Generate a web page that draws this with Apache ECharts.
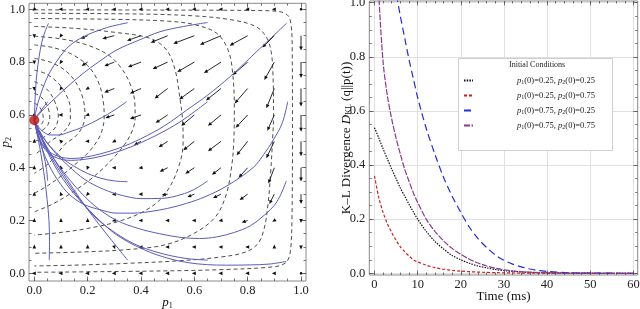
<!DOCTYPE html>
<html><head><meta charset="utf-8">
<script src="https://cdn.jsdelivr.net/npm/echarts@6/dist/echarts.min.js"></script>
<style>html,body{margin:0;padding:0;background:#fff}#c{width:640px;height:309px}</style>
</head><body><div id="c"></div>
<script>
// ---------------- LEFT PANEL DATA ----------------
const fieldP1 = [0, 0.1, 0.2, 0.3, 0.4, 0.5, 0.6, 0.7, 0.8, 0.9, 1.0];
const fieldP2 = [0, 0.1, 0.2, 0.3, 0.4, 0.5, 0.6, 0.7, 0.8, 0.9, 1.0];
// arrow components (rows: p2 = 0.0 .. 1.0, columns: p1 = 0.0 .. 1.0)
const fieldU = [
  [-3,-4,-4,-4,-4,-4,-4,-4,-4,-4,0],
  [0,0,0,1,-4,-4,-4,-4,-4,0,0],
  [0,0,0,-3,-4,-5,-5,-5,-6,-5,0],
  [0,-1,-2,-4,-5,-6,-7,-8,-8,-5,0],
  [0,-1,-1,-4,-5,-8,-9,-9,-9,-6,0],
  [0,-2,-4,-4,-7,-9,-11,-13,-11,-8,0],
  [0,-3,-5,-9,-11,-12,-13,-13,-12,-7,0],
  [0,-2,-5,-10,-11,-13,-15,-15,-13,-8,0],
  [0,-2,-6,-10,-13,-15,-17,-17,-15,-10,0],
  [0,-2,-7,-12,-14,-17,-21,-21,-18,-12,0],
  [-2,-5,-5,-5,-5,-5,-5,-5,-5,-4,0]
];
const fieldV = [
  [0,0,0,0,0,0,0,0,0,0,0],
  [3,3,3,-3,0,0,0,0,0,3,-4],
  [3,3,3,-1,0,0,0,-1,-2,-3,-6],
  [3,3,-2,0,0,-1,-3,-4,-6,-10,-10],
  [3,3,-3,0,-1,-4,-6,-7,-10,-16,-14],
  [3,2,0,-2,-4,-6,-9,-10,-14,-17,-15],
  [0,0,-2,-3,-4,-8,-11,-11,-13,-16,-17],
  [-3,-3,-3,-4,-5,-10,-11,-12,-15,-20,-18],
  [-3,-3,-4,-4,-5,-7,-10,-11,-13,-18,-16],
  [-3,-3,-3,-3,-5,-7,-8,-9,-10,-12,-15],
  [-2,0,0,0,0,0,0,0,0,0,0]
];
// dashed level curves
const contour1 = [[0,.644],[.013,.637],[.025,.622],[.032,.602],[.034,.582],[.028,.566],[.016,.558],[0,.553]];
const contour2 = [[0,.682],[.02,.672],[.04,.65],[.053,.622],[.058,.592],[.052,.565],[.037,.547],[.018,.536],[0,.53]];
const contour3 = [[0,.726],[.03,.712],[.06,.682],[.08,.642],[.09,.6],[.084,.563],[.066,.537],[.04,.518],[.018,.506],[0,.5]];
const contour4 = [[0,.77],[.045,.755],[.09,.72],[.12,.675],[.135,.625],[.135,.58],[.118,.545],[.09,.52],[.064,.503],[.04,.482],[.018,.462],[0,.45]];
const contour5 = [[0,.814],[.06,.8],[.12,.765],[.16,.716],[.183,.66],[.19,.6],[.178,.55],[.15,.515],[.114,.488],[.076,.44],[.04,.405],[0,.379]];
const contour6 = [[0,.865],[.07,.855],[.14,.83],[.2,.787],[.24,.725],[.258,.655],[.262,.59],[.252,.535],[.235,.5],[.2,.455],[.15,.41],[.1,.368],[.05,.332],[0,.303]];
const contour7 = [[0,.898],[.1,.888],[.2,.864],[.28,.825],[.33,.772],[.362,.71],[.377,.645],[.378,.585],[.365,.535],[.34,.49],[.29,.43],[.225,.368],[.15,.312],[.07,.263],[0,.233]];
const contour8 = [[0,.935],[.15,.928],[.3,.913],[.434,.89],[.496,.846],[.528,.77],[.545,.67],[.556,.58],[.558,.5],[.54,.4],[.49,.3],[.42,.24],[.32,.198],[.2,.17],[.1,.155],[0,.145]];
const contour9 = [[0,.965],[.3,.962],[.5,.955],[.6,.942],[.684,.909],[.728,.842],[.745,.745],[.75,.62],[.748,.5],[.74,.405],[.72,.3],[.68,.215],[.6,.152],[.49,.108],[.35,.09],[.18,.081],[0,.076]];
const contour10 = [[0,.985],[.4,.982],[.6,.975],[.74,.96],[.83,.935],[.87,.895],[.888,.84],[.895,.75],[.897,.6],[.893,.5],[.886,.38],[.876,.26],[.862,.17],[.838,.112],[.79,.08],[.7,.062],[.55,.048],[.35,.038],[.15,.031],[0,.028]];
const contour11 = [[0,.998],[.5,.997],[.85,.995],[.925,.99],[.952,.975],[.963,.94],[.967,.85],[.968,.5],[.966,.2],[.962,.1],[.955,.06],[.94,.038],[.9,.025],[.7,.014],[.4,.008],[0,.004]];
// trajectories
const traj1 = [[.053,.947],[.04,.915],[.028,.875],[.018,.82],[.01,.76],[.005,.7],[.002,.64],[0,.58]];
const traj2 = [[.35,.949],[.27,.93],[.184,.896],[.13,.86],[.096,.82],[.06,.765],[.034,.707],[.015,.65],[.005,.61],[0,.58]];
const traj3 = [[.65,.95],[.56,.935],[.471,.915],[.39,.882],[.309,.846],[.24,.8],[.184,.758],[.13,.712],[.084,.669],[.045,.632],[.02,.605],[0,.58]];
const traj4 = [[.946,.947],[.84,.846],[.734,.745],[.65,.675],[.571,.618],[.49,.56],[.4,.51],[.32,.475],[.246,.452],[.19,.44],[.146,.435],[.1,.44],[.06,.458],[.03,.49],[.01,.54],[0,.58]];
const traj5 = [[.65,.65],[.6,.612],[.55,.576],[.49,.54],[.4,.495],[.32,.463],[.25,.443],[.19,.432],[.14,.428],[.1,.432],[.06,.45],[.03,.485],[.01,.535],[0,.58]];
const traj6 = [[.95,.65],[.93,.57],[.896,.505],[.86,.45],[.82,.4],[.72,.33],[.64,.29],[.571,.265],[.5,.246],[.434,.234],[.37,.228],[.31,.228],[.25,.24],[.184,.262],[.13,.3],[.09,.35],[.055,.41],[.03,.47],[.012,.53],[0,.58]];
const traj7 = [[.346,.65],[.3,.618],[.25,.588],[.184,.555],[.13,.535],[.09,.524],[.059,.524],[.035,.535],[.015,.555],[0,.58]];
const traj8 = [[.05,.65],[.035,.63],[.02,.61],[.008,.593],[0,.58]];
const traj9 = [[.35,.347],[.3,.35],[.25,.36],[.2,.378],[.15,.405],[.1,.44],[.06,.48],[.03,.52],[.01,.556],[0,.58]];
const traj10 = [[.65,.35],[.6,.318],[.55,.298],[.48,.284],[.4,.283],[.33,.295],[.26,.318],[.19,.355],[.13,.405],[.08,.455],[.04,.505],[.015,.548],[0,.58]];
const traj11 = [[.945,.35],[.92,.29],[.896,.253],[.85,.21],[.81,.18],[.75,.155],[.684,.138],[.62,.132],[.55,.136],[.47,.15],[.39,.17],[.31,.2],[.24,.245],[.18,.3],[.12,.37],[.07,.44],[.035,.5],[.012,.55],[0,.58]];
const traj12 = [[.05,.35],[.045,.4],[.035,.45],[.022,.5],[.01,.545],[0,.58]];
const traj13 = [[.056,.05],[.057,.12],[.055,.2],[.048,.28],[.04,.35],[.03,.42],[.02,.48],[.01,.53],[0,.58]];
const traj14 = [[.35,.05],[.31,.1],[.27,.15],[.22,.215],[.17,.285],[.12,.36],[.075,.43],[.04,.49],[.015,.54],[0,.58]];
const traj15 = [[.65,.05],[.58,.055],[.52,.065],[.46,.08],[.4,.1],[.34,.13],[.28,.17],[.22,.22],[.17,.28],[.12,.35],[.075,.42],[.04,.485],[.015,.54],[0,.58]];
const traj16 = [[.945,.045],[.88,.035],[.81,.032],[.72,.031],[.646,.033],[.58,.04],[.52,.052],[.46,.07],[.41,.09],[.35,.12],[.296,.155],[.245,.2],[.196,.25],[.15,.3],[.109,.355],[.075,.41],[.046,.467],[.02,.525],[0,.58]];
const fixedPoint = [0, 0.58];
const leftMajorTicks = [0, 0.2, 0.4, 0.6, 0.8, 1.0];
const leftMinorTicks = [0,0.05,0.1,0.15,0.2,0.25,0.3,0.35,0.4,0.45,0.5,0.55,0.6,0.65,0.7,0.75,0.8,0.85,0.9,0.95,1.0];

// ---------------- RIGHT PANEL DATA ----------------
const timeMs = [0,1,2,3,4,5,6,7,8,9,10,12,14,16,18,20,22,24,26,28,30,32,34,36,38,40,45,50,55,60];
const klBlack  = [.538,.50,.46,.422,.385,.35,.315,.285,.255,.227,.2,.155,.118,.09,.066,.05,.037,.027,.02,.014,.01,.007,.005,.0035,.0025,.0017,.0007,.0003,.0001,0];
const klRed    = [.36,.28,.225,.183,.15,.122,.098,.08,.064,.05,.042,.03,.021,.015,.011,.008,.006,.0045,.0033,.0024,.0017,.0012,.0009,.0006,.0004,.0003,.0001,0,0,0];
const klBlue   = [1.55,1.45,1.35,1.25,1.14,1.04,.95,.87,.79,.72,.65,.535,.44,.355,.285,.225,.17,.128,.095,.068,.048,.034,.024,.016,.01,.007,.002,.0008,.0003,0];
const klPurple = [1.4,1.03,.78,.655,.57,.5,.44,.385,.34,.298,.262,.2,.155,.12,.092,.07,.052,.038,.027,.019,.013,.009,.006,.004,.003,.002,.0007,.0003,.0001,0];
const icP1 = [0.25, 0.25, 0.75, 0.75];
const icP2 = [0.25, 0.75, 0.25, 0.75];
const rightXMajor = [0,10,20,30,40,50,60];
const rightXMinor = [0,2,4,6,8,10,12,14,16,18,20,22,24,26,28,30,32,34,36,38,40,42,44,46,48,50,52,54,56,58,60];
const rightYMajor = [0,0.2,0.4,0.6,0.8,1.0];
const rightYMinor = [0,0.05,0.1,0.15,0.2,0.25,0.3,0.35,0.4,0.45,0.5,0.55,0.6,0.65,0.7,0.75,0.8,0.85,0.9,0.95,1.0];

// ---------------- BUILD ----------------
const SERIF = "'Liberation Serif','DejaVu Serif',serif";
const FIELD_SCALE = 1/266;
const chart = echarts.init(document.getElementById('c'), null, {renderer:'canvas'});

const subRich = {
  i:{fontStyle:'italic', fontFamily:SERIF, fontSize:13, color:'#111'},
  s:{fontFamily:SERIF, fontSize:8, color:'#111', padding:[6,0,0,0]},
  t:{fontFamily:SERIF, fontSize:13, color:'#111'}
};

function axisSet(kind, gridIndex, min, max, majors, minors, fmt, split, nameCfg) {
  const sides = kind === 'x' ? ['bottom','top'] : ['left','right'];
  const out = [];
  sides.forEach((pos, k) => {
    [[majors, 4.5, k === 0, true], [minors, 2.5, false, false]].forEach(([vals, len, lab, isMajor]) => {
      const ax = {
        type:'value', gridIndex, min, max, position: pos,
        nameMoveOverlap:false,
        axisLine:{show:false, onZero:false},
        axisTick:{show:true, inside:true, length:len, customValues:vals, lineStyle:{color:'#555', width:0.8}},
        axisLabel:{show:lab, customValues:vals, formatter:fmt, color:'#222', fontFamily:SERIF, fontSize:12.5, margin: kind==='x'?3:4},
        splitLine:{show: !!(split && k === 0 && isMajor), lineStyle:{color:'#e0e0e0', width:1}},
        minorTick:{show:false}, minorSplitLine:{show:false}
      };
      if (lab && nameCfg) Object.assign(ax, nameCfg);
      out.push(ax);
    });
  });
  return out;
}

const fmt1 = v => v.toFixed(1);
const fmt0 = v => String(Math.round(v));

const xAxes = [].concat(
  axisSet('x', 0, -0.0199, 1.0187, leftMajorTicks, leftMinorTicks, fmt1, false,
    {name:'{i|p}{s|1}', nameLocation:'middle', nameGap:15, nameTextStyle:{rich:subRich}}),
  axisSet('x', 1, -1.2, 61, rightXMajor, rightXMinor, fmt0, true,
    {name:'Time (ms)', nameLocation:'middle', nameGap:15, nameTextStyle:{fontFamily:SERIF, fontSize:13, color:'#111'}})
);
const yAxes = [].concat(
  axisSet('y', 0, -0.029, 1.0227, leftMajorTicks, leftMinorTicks, fmt1, false,
    {name:'{i|p}{s|2}', nameLocation:'middle', nameGap:16, nameRotate:90, nameTextStyle:{rich:subRich}}),
  axisSet('y', 1, -0.0063, 1.0063, rightYMajor, rightYMinor, fmt1, true,
    {name:'{t|K–L Divergence }{i|D}{s|KL}{t| (q||p(t))}', nameLocation:'middle', nameGap:16, nameRotate:90, nameTextStyle:{rich:subRich}})
);

const fieldData = [];
fieldP2.forEach((y, j) => fieldP1.forEach((x, i) => fieldData.push([x, y, fieldU[j][i], fieldV[j][i]])));

function renderArrow(params, api) {
  const x = api.value(0), y = api.value(1), u = api.value(2), v = api.value(3);
  const a = api.coord([x, y]);
  const b = api.coord([x + u * FIELD_SCALE, y + v * FIELD_SCALE]);
  const dx = b[0] - a[0], dy = b[1] - a[1];
  const len = Math.hypot(dx, dy);
  if (len < 0.5) return {type:'circle', shape:{cx:a[0], cy:a[1], r:1.3}, style:{fill:'#111'}};
  const ux = dx / len, uy = dy / len, H = 4, W = 1.8;
  const children = [];
  let tip;
  if (len < 6) {
    tip = [a[0] + ux * 2.5, a[1] + uy * 2.5];
  } else {
    tip = b;
    children.push({type:'line', shape:{x1:a[0], y1:a[1], x2:b[0] - ux * H * 0.8, y2:b[1] - uy * H * 0.8}, style:{stroke:'#111', lineWidth:0.9}});
  }
  const bx = tip[0] - ux * H, by = tip[1] - uy * H;
  children.push({type:'polygon', shape:{points:[tip, [bx - uy * W, by + ux * W], [bx + uy * W, by - ux * W]]}, style:{fill:'#111'}});
  return {type:'group', children};
}

const contours = [contour1,contour2,contour3,contour4,contour5,contour6,contour7,contour8,contour9,contour10,contour11];
const trajs = [traj1,traj2,traj3,traj4,traj5,traj6,traj7,traj8,traj9,traj10,traj11,traj12,traj13,traj14,traj15,traj16];

const series = [];
series.push({type:'custom', xAxisIndex:0, yAxisIndex:0, data:fieldData, renderItem:renderArrow, clip:false, silent:true, z:3});
contours.forEach(c => series.push({type:'line', xAxisIndex:0, yAxisIndex:0, data:c, smooth:0.35, symbol:'none', clip:false, silent:true,
  lineStyle:{color:'#3a3a3a', width:0.9, type:[4,3]}, z:2}));
trajs.forEach(t => series.push({type:'line', xAxisIndex:0, yAxisIndex:0, data:t, smooth:0.35, symbol:'none', clip:false, silent:true,
  lineStyle:{color:'#5c5cb8', width:1}, z:4}));
series.push({type:'scatter', xAxisIndex:0, yAxisIndex:0, data:[fixedPoint], symbolSize:10, clip:false, itemStyle:{color:'#b81414'}, z:6, silent:true});

const klSeries = [klBlack, klRed, klBlue, klPurple];
const klColors = ['#111111', '#cc1f1f', '#1f2fd0', '#8a3a8c'];
const klDash = [[1.5,1.2], [3,2], [7,4], [6,1.5]];
const icNames = icP1.map((a, k) => a.toFixed(2) + '|' + icP2[k].toFixed(2));
klSeries.forEach((vals, k) => series.push({
  type:'line', name: icNames[k], xAxisIndex:4, yAxisIndex:4,
  data: timeMs.map((t, i) => [t, vals[i]]), smooth:0.3, symbol:'none', showSymbol:false, clip:true,
  lineStyle:{color:klColors[k], width:1.2, type:klDash[k]}, itemStyle:{color:klColors[k]}, z:3
}));

const option = {
  animation:false,
  backgroundColor:'#fff',
  grid:[
    {left:29, top:3.3, width:277, height:277.7, show:true, borderColor:'#8a8a8a', borderWidth:1, backgroundColor:'transparent', containLabel:false, outerBoundsMode:'none'},
    {left:369.3, top:1, width:268.4, height:274, show:true, borderColor:'#8a8a8a', borderWidth:1, backgroundColor:'transparent', containLabel:false, outerBoundsMode:'none'}
  ],
  xAxis: xAxes,
  yAxis: yAxes,
  title:{text:'Initial Conditions', left:509, top:61, padding:0,
    textStyle:{fontFamily:SERIF, fontSize:8, fontWeight:'normal', color:'#222'}},
  graphic:[{type:'rect', shape:{x:458.5, y:58.5, width:154, height:92}, style:{fill:'#fff', stroke:'#cfcfcf', lineWidth:1}, z:1, silent:true}],
  legend:{
    data: icNames, orient:'vertical', left:463, top:76, itemWidth:9, itemHeight:5, itemGap:5.5, padding:0,
    selectedMode:false,
    itemStyle:{opacity:0},
    formatter: name => {
      const [a, b] = name.split('|');
      return '{g| }{i|p}{s|1}{t|(0)=' + a + ', }{i|p}{s|2}{t|(0)=' + b + '}';
    },
    textStyle:{fontFamily:SERIF, fontSize:8.5, color:'#222', rich:{
      g:{width:39},
      i:{fontStyle:'italic', fontFamily:SERIF, fontSize:8.5, color:'#222'},
      s:{fontFamily:SERIF, fontSize:6, color:'#222', padding:[4,0,0,0]},
      t:{fontFamily:SERIF, fontSize:8.5, color:'#222'}
    }}
  },
  series
};
chart.setOption(option);
</script>
</body></html>
